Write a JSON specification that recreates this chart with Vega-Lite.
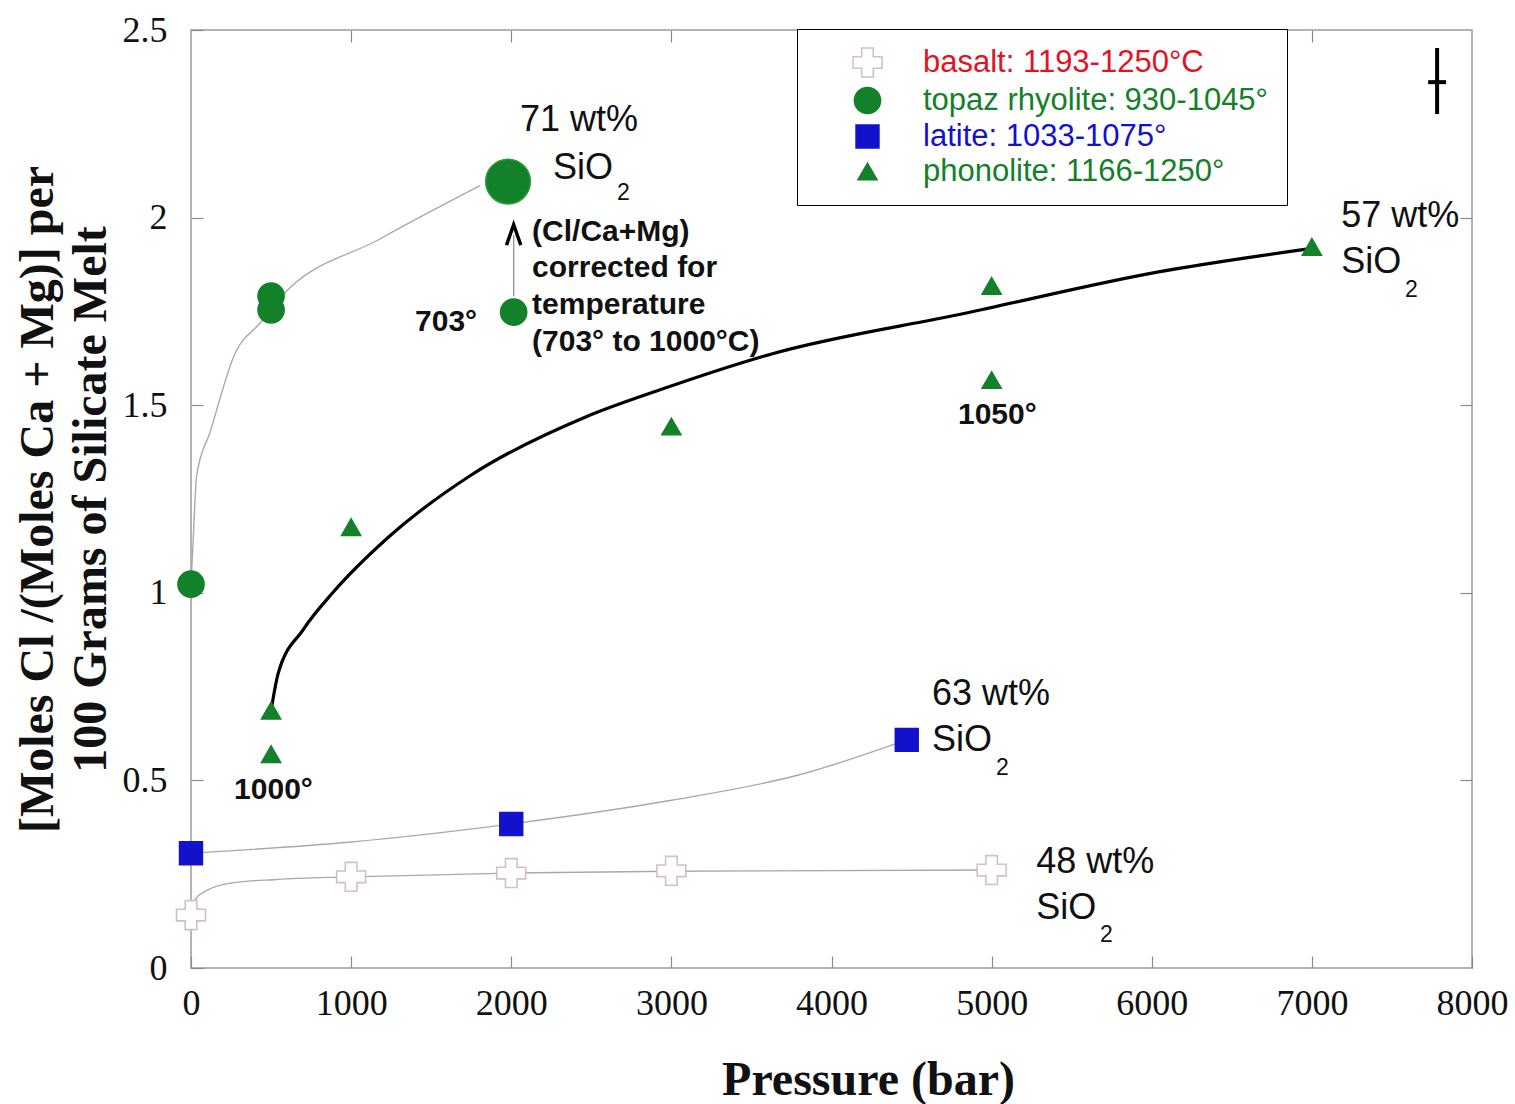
{
  "$schema": "https://vega.github.io/schema/vega-lite/v6.json",
  "width": 1281,
  "height": 938,
  "autosize": {"type": "none"},
  "padding": {"left": 191, "top": 30, "right": 43, "bottom": 136},
  "background": "white",
  "config": {
    "view": {"stroke": "#9a9a9a", "strokeWidth": 1.5},
    "font": "Liberation Sans",
    "axis": {"grid": false}
  },
  "datasets": {
    "points": [
      {"series": "basalt: 1193-1250°C", "p": 0, "v": 0.141},
      {"series": "basalt: 1193-1250°C", "p": 1000, "v": 0.243},
      {"series": "basalt: 1193-1250°C", "p": 2000, "v": 0.253},
      {"series": "basalt: 1193-1250°C", "p": 3000, "v": 0.259},
      {"series": "basalt: 1193-1250°C", "p": 5000, "v": 0.261},
      {"series": "topaz rhyolite: 930-1045°", "p": 0, "v": 1.023},
      {"series": "topaz rhyolite: 930-1045°", "p": 500, "v": 1.791},
      {"series": "topaz rhyolite: 930-1045°", "p": 500, "v": 1.754},
      {"series": "topaz rhyolite: 930-1045°", "p": 2015, "v": 1.748},
      {"series": "latite: 1033-1075°", "p": 0, "v": 0.306},
      {"series": "latite: 1033-1075°", "p": 2000, "v": 0.384},
      {"series": "latite: 1033-1075°", "p": 4470, "v": 0.608},
      {"series": "phonolite: 1166-1250°", "p": 500, "v": 0.686},
      {"series": "phonolite: 1166-1250°", "p": 500, "v": 0.57},
      {"series": "phonolite: 1166-1250°", "p": 1000, "v": 1.175},
      {"series": "phonolite: 1166-1250°", "p": 3000, "v": 1.443},
      {"series": "phonolite: 1166-1250°", "p": 5000, "v": 1.818},
      {"series": "phonolite: 1166-1250°", "p": 5000, "v": 1.567},
      {"series": "phonolite: 1166-1250°", "p": 7000, "v": 1.922}
    ],
    "corrected": [
      {"series": "topaz rhyolite: 930-1045°", "p": 1980, "v": 2.096}
    ],
    "fits": [
      {"curve": "basalt", "p": 0, "v": 0.16},
      {"curve": "basalt", "p": 29, "v": 0.184},
      {"curve": "basalt", "p": 100, "v": 0.207},
      {"curve": "basalt", "p": 245, "v": 0.226},
      {"curve": "basalt", "p": 532, "v": 0.236},
      {"curve": "basalt", "p": 1000, "v": 0.243},
      {"curve": "basalt", "p": 2000, "v": 0.253},
      {"curve": "basalt", "p": 3000, "v": 0.258},
      {"curve": "basalt", "p": 5000, "v": 0.261},
      {"curve": "latite", "p": 0, "v": 0.306},
      {"curve": "latite", "p": 1000, "v": 0.336},
      {"curve": "latite", "p": 2000, "v": 0.384},
      {"curve": "latite", "p": 3000, "v": 0.447},
      {"curve": "latite", "p": 3800, "v": 0.515},
      {"curve": "latite", "p": 4470, "v": 0.608},
      {"curve": "rhyolite", "p": 0, "v": 1.02},
      {"curve": "rhyolite", "p": 15, "v": 1.154},
      {"curve": "rhyolite", "p": 35, "v": 1.312},
      {"curve": "rhyolite", "p": 119, "v": 1.428},
      {"curve": "rhyolite", "p": 275, "v": 1.638},
      {"curve": "rhyolite", "p": 431, "v": 1.719},
      {"curve": "rhyolite", "p": 556, "v": 1.786},
      {"curve": "rhyolite", "p": 1180, "v": 1.943},
      {"curve": "rhyolite", "p": 1805, "v": 2.085},
      {"curve": "phonolite", "p": 500, "v": 0.686},
      {"curve": "phonolite", "p": 545, "v": 0.786},
      {"curve": "phonolite", "p": 701, "v": 0.902},
      {"curve": "phonolite", "p": 889, "v": 1.002},
      {"curve": "phonolite", "p": 1222, "v": 1.144},
      {"curve": "phonolite", "p": 1743, "v": 1.312},
      {"curve": "phonolite", "p": 2472, "v": 1.47},
      {"curve": "phonolite", "p": 2929, "v": 1.541},
      {"curve": "phonolite", "p": 3637, "v": 1.638},
      {"curve": "phonolite", "p": 4834, "v": 1.745},
      {"curve": "phonolite", "p": 6052, "v": 1.856},
      {"curve": "phonolite", "p": 7000, "v": 1.918}
    ],
    "correction": [
      {"p": 2015, "from": 1.79, "to": 1.954}
    ],
    "uncertainty": [
      {"p": 7782, "v": 2.361, "p_lo": 7726, "p_hi": 7838, "v_lo": 2.276, "v_hi": 2.452}
    ],
    "compositions": [
      {"p": 2055, "v": 2.26, "text": "71 wt%"},
      {"p": 2261, "v": 2.132, "text": "SiO"},
      {"p": 7183, "v": 2.004, "text": "57 wt%"},
      {"p": 7183, "v": 1.882, "text": "SiO"},
      {"p": 4628, "v": 0.73, "text": "63 wt%"},
      {"p": 4628, "v": 0.608, "text": "SiO"},
      {"p": 5278, "v": 0.283, "text": "48 wt%"},
      {"p": 5278, "v": 0.16, "text": "SiO"}
    ],
    "subscripts": [
      {"p": 2660, "v": 2.066, "text": "2"},
      {"p": 7582, "v": 1.807, "text": "2"},
      {"p": 5027, "v": 0.533, "text": "2"},
      {"p": 5677, "v": 0.088, "text": "2"}
    ],
    "notes": [
      {"p": 1399, "v": 1.722, "text": "703°"},
      {"p": 269, "v": 0.474, "text": "1000°"},
      {"p": 4790, "v": 1.474, "text": "1050°"},
      {"p": 2130, "v": 1.962, "text": "(Cl/Ca+Mg)"},
      {"p": 2130, "v": 1.866, "text": "corrected for"},
      {"p": 2130, "v": 1.767, "text": "temperature"},
      {"p": 2130, "v": 1.668, "text": "(703° to 1000°C)"}
    ]
  },
  "resolve": {"axis": {"x": "independent", "y": "independent"}},
  "layer": [
    {
      "data": {"name": "fits"},
      "transform": [{"filter": "datum.curve !== 'phonolite'"}],
      "mark": {"type": "line", "interpolate": "monotone", "stroke": "#a9a9a9", "strokeWidth": 1.4},
      "encoding": {
        "x": {
          "field": "p", "type": "quantitative",
          "scale": {"domain": [0, 8000], "nice": false, "zero": true},
          "axis": {
            "orient": "bottom",
            "values": [0, 1000, 2000, 3000, 4000, 5000, 6000, 7000, 8000],
            "format": "d",
            "domain": false,
            "tickSize": -12, "tickColor": "#8a8a8a", "tickWidth": 1.2,
            "labelFont": "Liberation Serif", "labelFontSize": 36, "labelColor": "#111111",
            "labelPadding": 30, "labelFlush": false,
            "title": "Pressure (bar)",
            "titleFont": "Liberation Serif", "titleFontSize": 48, "titleFontWeight": "bold",
            "titleColor": "#111111", "titlePadding": 35, "titleX": 677
          }
        },
        "y": {
          "field": "v", "type": "quantitative",
          "scale": {"domain": [0, 2.5], "nice": false, "zero": true},
          "axis": {
            "orient": "left",
            "values": [0, 0.5, 1, 1.5, 2, 2.5],
            "labelExpr": "datum.value === 0 ? '0' : format(datum.value, '.2~f')",
            "domain": false,
            "tickSize": -12, "tickColor": "#8a8a8a", "tickWidth": 1.2,
            "labelFont": "Liberation Serif", "labelFontSize": 36, "labelColor": "#111111",
            "labelPadding": 36, "labelFlush": false,
            "title": ["[Moles Cl /(Moles Ca + Mg)] per", "100 Grams of Silicate Melt"],
            "titleFont": "Liberation Serif", "titleFontSize": 48, "titleFontWeight": "bold",
            "titleColor": "#111111", "titleLineHeight": 53, "titlePadding": 7
          }
        },
        "detail": {"field": "curve", "type": "nominal"}
      }
    },
    {
      "data": {"name": "fits"},
      "transform": [{"filter": "datum.curve === 'phonolite'"}],
      "mark": {"type": "line", "interpolate": "monotone", "stroke": "black", "strokeWidth": 3.2},
      "encoding": {
        "x": {"field": "p", "type": "quantitative", "axis": null},
        "y": {"field": "v", "type": "quantitative", "axis": null}
      }
    },
    {
      "data": {"name": "correction"},
      "mark": {"type": "rule", "stroke": "#9a9a9a", "strokeWidth": 1.4},
      "encoding": {
        "x": {"field": "p", "type": "quantitative", "axis": null},
        "y": {"field": "from", "type": "quantitative", "axis": null},
        "y2": {"field": "to"}
      }
    },
    {
      "data": {"name": "correction"},
      "mark": {"type": "point", "shape": "M-0.7,1L0,-1L0.7,1", "filled": false, "stroke": "black", "strokeWidth": 3.4, "size": 420, "opacity": 1},
      "encoding": {
        "x": {"field": "p", "type": "quantitative", "axis": null},
        "y": {"field": "to", "type": "quantitative", "axis": null}
      }
    },
    {
      "data": {"name": "points"},
      "mark": {"type": "point", "filled": true, "opacity": 1, "strokeWidth": 1.6},
      "encoding": {
        "x": {"field": "p", "type": "quantitative", "axis": null},
        "y": {"field": "v", "type": "quantitative", "axis": null},
        "shape": {
          "field": "series", "type": "nominal",
          "scale": {
            "domain": ["basalt: 1193-1250°C", "topaz rhyolite: 930-1045°", "latite: 1033-1075°", "phonolite: 1166-1250°"],
            "range": ["cross", "circle", "square", "triangle-up"]
          }
        },
        "fill": {
          "field": "series", "type": "nominal",
          "scale": {
            "domain": ["basalt: 1193-1250°C", "topaz rhyolite: 930-1045°", "latite: 1033-1075°", "phonolite: 1166-1250°"],
            "range": ["#ffffff", "#13802a", "#1212cc", "#13802a"]
          },
          "legend": {
            "title": null,
            "orient": "none",
            "legendX": 606,
            "legendY": -1,
            "padding": 18,
            "strokeColor": "black",
            "fillColor": "white",
            "labelFont": "Liberation Sans",
            "labelFontSize": 31,
            "labelLimit": 700,
            "labelColor": {"expr": "datum.value === 'basalt: 1193-1250°C' ? '#e3121f' : datum.value === 'latite: 1033-1075°' ? '#1212cc' : '#13802a'"},
            "symbolOffset": 37,
            "labelOffset": 40,
            "rowPadding": 3,
            "symbolStrokeWidth": 1.6,
            "encode": {
              "legend": {
                "update": {"strokeWidth": {"value": 2.5}}
              }
            }
          }
        },
        "stroke": {
          "field": "series", "type": "nominal",
          "scale": {
            "domain": ["basalt: 1193-1250°C", "topaz rhyolite: 930-1045°", "latite: 1033-1075°", "phonolite: 1166-1250°"],
            "range": ["#d4bfc4", "#13802a", "#1212cc", "#13802a"]
          }
        },
        "size": {
          "field": "series", "type": "nominal",
          "scale": {
            "domain": ["basalt: 1193-1250°C", "topaz rhyolite: 930-1045°", "latite: 1033-1075°", "phonolite: 1166-1250°"],
            "range": [840, 360, 230, 300]
          }
        }
      }
    },
    {
      "data": {"name": "corrected"},
      "mark": {"type": "point", "shape": "circle", "filled": true, "opacity": 1, "fill": "#13802a", "stroke": "#2a9a3a", "strokeWidth": 1.5, "size": 2000},
      "encoding": {
        "x": {"field": "p", "type": "quantitative", "axis": null},
        "y": {"field": "v", "type": "quantitative", "axis": null}
      }
    },
    {
      "data": {"name": "uncertainty"},
      "mark": {"type": "rule", "stroke": "black", "strokeWidth": 4},
      "encoding": {
        "x": {
          "field": "p", "type": "quantitative",
          "axis": {"orient": "top", "values": [1000, 2000, 3000, 4000, 5000, 6000, 7000], "labels": false, "domain": false, "tickSize": -12, "tickColor": "#8a8a8a", "tickWidth": 1.2, "title": null}
        },
        "y": {
          "field": "v_lo", "type": "quantitative",
          "axis": {"orient": "right", "values": [0.5, 1, 1.5, 2], "labels": false, "domain": false, "tickSize": -12, "tickColor": "#8a8a8a", "tickWidth": 1.2, "title": null}
        },
        "y2": {"field": "v_hi"}
      }
    },
    {
      "data": {"name": "uncertainty"},
      "mark": {"type": "rule", "stroke": "black", "strokeWidth": 4},
      "encoding": {
        "x": {"field": "p_lo", "type": "quantitative", "axis": null},
        "x2": {"field": "p_hi"},
        "y": {"field": "v", "type": "quantitative", "axis": null}
      }
    },
    {
      "data": {"name": "compositions"},
      "mark": {"type": "text", "align": "left", "baseline": "middle", "font": "Liberation Sans", "fontSize": 36, "fill": "#111111"},
      "encoding": {
        "x": {"field": "p", "type": "quantitative", "axis": null},
        "y": {"field": "v", "type": "quantitative", "axis": null},
        "text": {"field": "text"}
      }
    },
    {
      "data": {"name": "subscripts"},
      "mark": {"type": "text", "align": "left", "baseline": "middle", "font": "Liberation Sans", "fontSize": 23, "fill": "#111111"},
      "encoding": {
        "x": {"field": "p", "type": "quantitative", "axis": null},
        "y": {"field": "v", "type": "quantitative", "axis": null},
        "text": {"field": "text"}
      }
    },
    {
      "data": {"name": "notes"},
      "mark": {"type": "text", "align": "left", "baseline": "middle", "font": "Liberation Sans", "fontSize": 30, "fontWeight": "bold", "fill": "#111111"},
      "encoding": {
        "x": {"field": "p", "type": "quantitative", "axis": null},
        "y": {"field": "v", "type": "quantitative", "axis": null},
        "text": {"field": "text"}
      }
    }
  ]
}
